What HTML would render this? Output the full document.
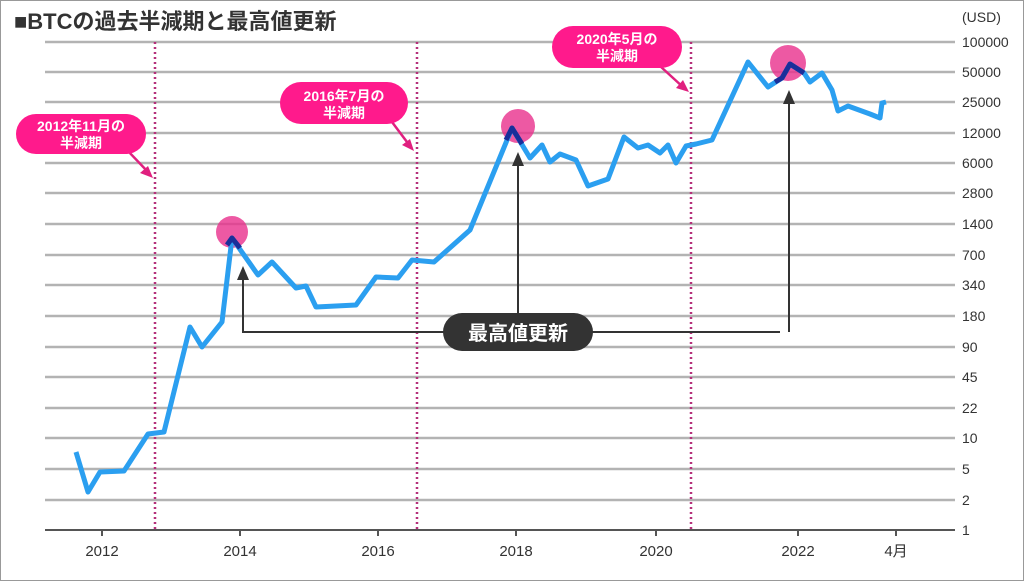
<!DOCTYPE html><html><head><meta charset="utf-8"><style>body{margin:0;background:#fff}svg{display:block}</style></head><body>
<svg width="1024" height="581" xmlns="http://www.w3.org/2000/svg" font-family="'Liberation Sans','Noto Sans CJK JP',sans-serif">
<rect x="0.5" y="0.5" width="1023" height="580" fill="#fff" stroke="#999"/>
<text x="14" y="29" font-size="22" font-weight="bold" fill="#333">■BTCの過去半減期と最高値更新</text>
<g stroke="#b3b3b3" stroke-width="2.5">
<line x1="45" x2="955" y1="42" y2="42"/><line x1="45" x2="955" y1="72" y2="72"/><line x1="45" x2="955" y1="102" y2="102"/><line x1="45" x2="955" y1="133" y2="133"/><line x1="45" x2="955" y1="163" y2="163"/><line x1="45" x2="955" y1="193" y2="193"/><line x1="45" x2="955" y1="224" y2="224"/><line x1="45" x2="955" y1="255" y2="255"/><line x1="45" x2="955" y1="285" y2="285"/><line x1="45" x2="955" y1="316" y2="316"/><line x1="45" x2="955" y1="347" y2="347"/><line x1="45" x2="955" y1="377" y2="377"/><line x1="45" x2="955" y1="408" y2="408"/><line x1="45" x2="955" y1="438" y2="438"/><line x1="45" x2="955" y1="469" y2="469"/><line x1="45" x2="955" y1="500" y2="500"/>
</g>
<line x1="45" x2="955" y1="530" y2="530" stroke="#555" stroke-width="2"/>
<g stroke="#555" stroke-width="2"><line x1="102" x2="102" y1="530" y2="536"/><line x1="240" x2="240" y1="530" y2="536"/><line x1="378" x2="378" y1="530" y2="536"/><line x1="516" x2="516" y1="530" y2="536"/><line x1="656" x2="656" y1="530" y2="536"/><line x1="798" x2="798" y1="530" y2="536"/><line x1="896" x2="896" y1="530" y2="536"/></g>
<g font-size="15" fill="#333" text-anchor="middle"><text x="102" y="556">2012</text><text x="240" y="556">2014</text><text x="378" y="556">2016</text><text x="516" y="556">2018</text><text x="656" y="556">2020</text><text x="798" y="556">2022</text><text x="896" y="556">4月</text></g>
<g font-size="14" fill="#333"><text x="962" y="22">(USD)</text><text x="962" y="47">100000</text><text x="962" y="77">50000</text><text x="962" y="107">25000</text><text x="962" y="138">12000</text><text x="962" y="168">6000</text><text x="962" y="198">2800</text><text x="962" y="229">1400</text><text x="962" y="260">700</text><text x="962" y="290">340</text><text x="962" y="321">180</text><text x="962" y="352">90</text><text x="962" y="382">45</text><text x="962" y="413">22</text><text x="962" y="443">10</text><text x="962" y="474">5</text><text x="962" y="505">2</text><text x="962" y="535">1</text></g>
<g stroke="#b5307a" stroke-width="2.5" stroke-dasharray="2,3"><line x1="155" x2="155" y1="42" y2="530"/><line x1="417" x2="417" y1="42" y2="530"/><line x1="691" x2="691" y1="42" y2="530"/></g>
<g fill="#e8308c" opacity="0.8"><circle cx="232" cy="232" r="16"/><circle cx="518" cy="126" r="17"/><circle cx="788" cy="63" r="18"/></g>
<polyline fill="none" stroke="#2b9ff0" stroke-width="5" stroke-linejoin="round" points="76,452 88,492 100,472 124,471 148,434 164,432 190,327 202,347 222,322 232,238 258,275 272,262 296,288 306,286 316,307 356,305 376,277 398,278 412,260 434,262 470,230 512,128 530,158 542,145 550,162 560,154 576,160 588,186 608,179 624,137 638,148 648,145 660,153 668,145 676,163 686,146 696,144 712,140 748,62 768,87 782,78 790,64 804,73 810,82 822,73 832,90 838,111 848,106 870,114 880,118 882,103 886,102"/>
<g fill="none" stroke="#1a2f9a" stroke-width="5" stroke-linejoin="round"><polyline points="227,245 232,238 240,248"/><polyline points="506,140 512,128 522,144"/><polyline points="775,82 782,78 790,64 804,73"/></g>
<g stroke="#333" stroke-width="2" fill="none"><polyline points="243,275 243,332 780,332"/><line x1="518" y1="332" x2="518" y2="160"/><line x1="789" y1="332" x2="789" y2="98"/></g>
<g fill="#333"><polygon points="243,266 237,280 249,280"/><polygon points="518,152 512,166 524,166"/><polygon points="789,90 783,104 795,104"/></g>
<rect x="443" y="313" width="150" height="38" rx="19" fill="#333"/>
<text x="518" y="340" font-size="20" font-weight="bold" fill="#fff" text-anchor="middle">最高値更新</text>
<g stroke="#e0207f" stroke-width="2.5"><line x1="127" y1="150" x2="148" y2="172"/><line x1="392" y1="122" x2="410" y2="146"/><line x1="660" y1="66" x2="684" y2="88"/></g>
<g fill="#e0207f"><polygon points="153,178 140,173 148,166"/><polygon points="414,151 402,145 410,139"/><polygon points="689,92 676,88 683,80"/></g>
<g fill="#ff1a8c"><rect x="16" y="114" width="130" height="40" rx="20"/><rect x="280" y="82" width="128" height="42" rx="21"/><rect x="552" y="26" width="130" height="42" rx="21"/></g>
<g font-size="14" fill="#fff" text-anchor="middle" font-weight="bold"><text x="81" y="131">2012年11月の</text><text x="81" y="148">半減期</text><text x="344" y="101">2016年7月の</text><text x="344" y="118">半減期</text><text x="617" y="44">2020年5月の</text><text x="617" y="61">半減期</text></g>
</svg></body></html>
